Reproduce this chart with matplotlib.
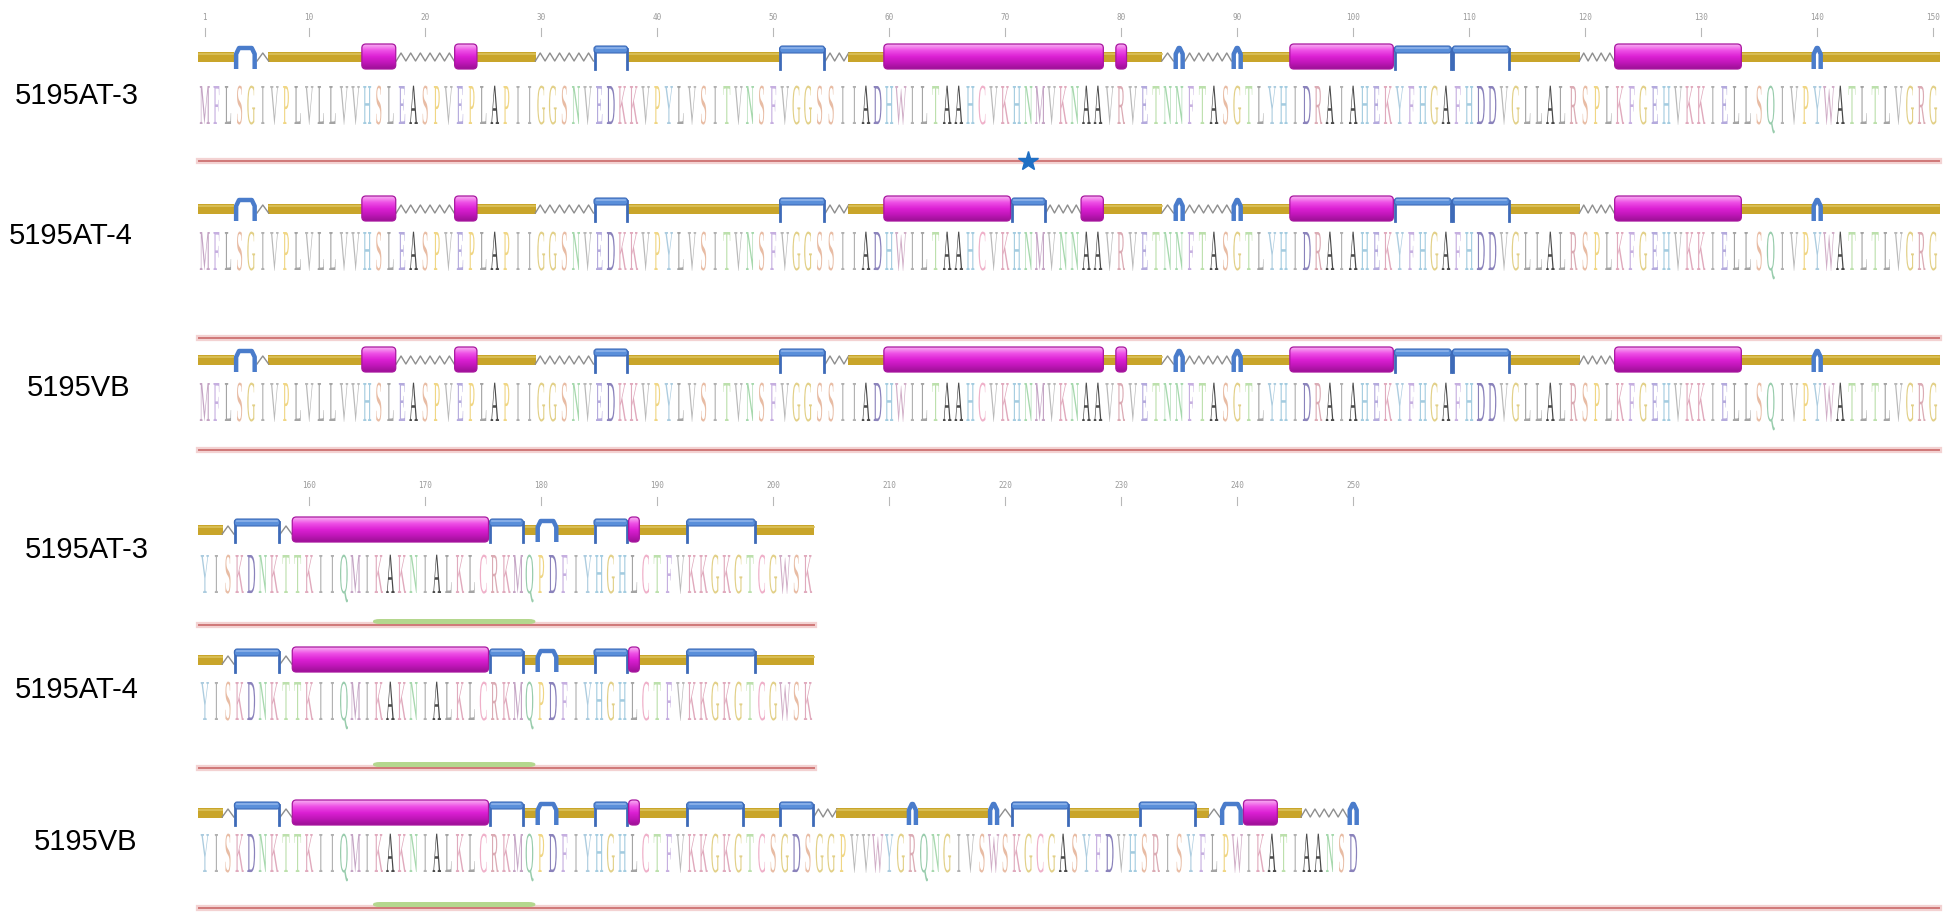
import matplotlib
matplotlib.use("Agg")
import matplotlib.pyplot as plt
import numpy as np
from matplotlib.patches import Rectangle, FancyBboxPatch, PathPatch
from matplotlib.textpath import TextPath
from matplotlib.font_manager import FontProperties
from matplotlib.path import Path
from matplotlib.colors import LinearSegmentedColormap

# ---- data ----
seq_top_at3 = ("MFLSGIVPLVLLVVHSLEASPVEPLAPIIGGSNVEDKKVPYLVSITVNSFVGGSSIIADHWILTAAHCVKHNMVKNAA"
               "VRVETNNFTASGTLYHIDRAIAHEKYFHGAFHDDVGLLALRSPLKFGEHVKKIELLSQIVPYWATLTLVGRG")
seq_top_at4 = ("MFLSGIVPLVLLVVHSLEASPVEPLAPIIGGSNVEDKKVPYLVSITVNSFVGGSSIIADHWILTAAHCVKHNMVNNAA"
               "VRVETNNFTASGTLYHIDRAIAHEKYFHGAFHDDVGLLALRSPLKFGEHVKKIELLSQIVPYWATLTLVGRG")
seq_top_vb = seq_top_at3
seq_bot_at3 = "YISKDNKTTKIIQMIKAKNIALKLCRKMQPDFIYHGHLCTFVKKGKGTCGWSK"
seq_bot_at4 = seq_bot_at3
seq_bot_vb = ("YISKDNKTTKIIQMIKAKNIALKLCRKMQPDFIYHGHLCTFVKKGKGT"
              "CSGDSGGPVVWYGRQNGIVSWSKGCGASYFDVHSRISYFLPWIKATIAANSD")

# secondary structure: C coil, H helix, E strand/turn, S bend (zigzag); residues inclusive
ss_top_at3 = [("C", 1, 3), ("E", 4, 5), ("S", 6, 6), ("C", 7, 14), ("H", 15, 17), ("S", 18, 22),
              ("H", 23, 24), ("C", 25, 29), ("S", 30, 34), ("E", 35, 37), ("C", 38, 50),
              ("E", 51, 54), ("S", 55, 56), ("C", 57, 59), ("H", 60, 78), ("C", 79, 79),
              ("H", 80, 80), ("C", 81, 83), ("S", 84, 84), ("E", 85, 85), ("S", 86, 89),
              ("E", 90, 90), ("C", 91, 94), ("H", 95, 103), ("E", 104, 108), ("E", 109, 113),
              ("C", 114, 119), ("S", 120, 122), ("H", 123, 133), ("C", 134, 139),
              ("E", 140, 140), ("C", 141, 150)]
ss_top_at4 = [s for s in ss_top_at3 if s[2] < 60 or s[1] > 83] + \
             [("H", 60, 70), ("E", 71, 73), ("S", 74, 76), ("H", 77, 78), ("C", 79, 83)]
ss_top_vb = ss_top_at3
ss_bot_at3 = [("C", 1, 2), ("S", 3, 3), ("E", 4, 7), ("S", 8, 8), ("H", 9, 25), ("E", 26, 28),
              ("C", 29, 29), ("E", 30, 31), ("C", 32, 34), ("E", 35, 37), ("H", 38, 38),
              ("C", 39, 42), ("E", 43, 48), ("C", 49, 53)]
ss_bot_at4 = ss_bot_at3
ss_bot_vb = [("C", 1, 2), ("S", 3, 3), ("E", 4, 7), ("S", 8, 8), ("H", 9, 25), ("E", 26, 28),
             ("C", 29, 29), ("E", 30, 31), ("C", 32, 34), ("E", 35, 37), ("H", 38, 38),
             ("C", 39, 42), ("E", 43, 47), ("C", 48, 50), ("E", 51, 53), ("S", 54, 55),
             ("C", 56, 61), ("E", 62, 62), ("C", 63, 68), ("E", 69, 69), ("S", 70, 70),
             ("E", 71, 75), ("C", 76, 81), ("E", 82, 86), ("C", 87, 87), ("S", 88, 88),
             ("E", 89, 90), ("H", 91, 93), ("C", 94, 95), ("S", 96, 99), ("E", 100, 100)]

names = ["5195AT-3", "5195AT-4", "5195VB", "5195AT-3", "5195AT-4", "5195VB"]
top_ticks = [1] + list(range(10, 151, 10))
bot_ticks = list(range(160, 251, 10))
bot_offset = 150
star_res = 72
green_span = (16, 29)

# ---- layout (pixels of the 1948x913 picture) ----
W, H = 1948, 913
PX0, PW = 199.0, 11.6
rows = [
    # seq, ss, bar y, letter bottom, red y, label y, label x, red end, green
    (seq_top_at3, ss_top_at3, 57, 124, 161, 96, 15, 150, False),
    (seq_top_at4, ss_top_at4, 209, 270, 338, 236, 9, 150, False),
    (seq_top_vb, ss_top_vb, 360, 421, 450, 388, 27, 150, False),
    (seq_bot_at3, ss_bot_at3, 530, 593, 625, 550, 25, 53, True),
    (seq_bot_at4, ss_bot_at4, 660, 720, 768, 690, 15, 53, True),
    (seq_bot_vb, ss_bot_vb, 813, 872, 908, 842, 34, 150, True),
]

res_colors = {
    "A": "#4a4a4a", "I": "#b0b0b0", "L": "#a4a4a4", "V": "#b8b8b8", "M": "#c4a4c4",
    "F": "#c6afe0", "W": "#d0acc6", "Y": "#acccdf", "G": "#e2d088", "P": "#f0d684",
    "S": "#e8bca4", "T": "#bce0ac", "N": "#a6d8ad", "Q": "#98ccac", "H": "#a4cce0",
    "K": "#e0aabd", "R": "#dbabb4", "C": "#efb0c9", "D": "#8a82bb", "E": "#b4aadd",
}

fig = plt.figure(figsize=(W / 100, H / 100), dpi=100)
ax = fig.add_axes([0, 0, 1, 1])
ax.set_axis_off()

helix_cmap = LinearSegmentedColormap.from_list(
    "helix", ["#f8b0f2", "#ee50e6", "#dc20d4", "#c016b8", "#9c1096"])
grad = np.linspace(0, 1, 64).reshape(-1, 1)

fp = FontProperties(family="Liberation Serif")
ext_M = TextPath((0, 0), "M", size=1, prop=fp).get_extents()
ext_H = TextPath((0, 0), "H", size=1, prop=fp).get_extents()
glyphs = {}


def draw_letter(ch, cx, base, height):
    if ch not in glyphs:
        glyphs[ch] = TextPath((0, 0), ch, size=1, prop=fp)
    p = glyphs[ch]
    e = p.get_extents()
    sx = 0.86 / ext_M.width
    sy = height / ext_H.height
    v = p.vertices.copy()
    v[:, 0] = (v[:, 0] - (e.x0 + e.width / 2)) * sx + cx
    v[:, 1] = base - v[:, 1] * sy
    ax.add_patch(PathPatch(Path(v, p.codes), fc=res_colors.get(ch, "#b0b0b0"),
                           ec="none", zorder=3))


def draw_segment(kind, s, e, B):
    x0, x1 = s - 1, e
    if kind == "C":
        ax.add_patch(Rectangle((x0 - 0.05, B - 5), x1 - x0 + 0.1, 10, fc="#c9a52a",
                               ec="none", zorder=2))
        ax.plot([x0, x1], [B - 3, B - 3], color="#dcc25c", lw=1.2, zorder=2.1)
    elif kind == "S":
        n = max(2, int(round((x1 - x0) / 0.4)))
        xs = np.linspace(x0, x1, n + 1)
        ys = B + np.where(np.arange(n + 1) % 2 == 0, 4, -4)
        ax.plot(xs, ys, color="#8e8e8e", lw=1.0, zorder=2)
    elif kind == "E":
        if x1 - x0 <= 2.1:
            xa, xb = x0 + 0.2, x1 - 0.2
            xs = [xa, xa, xa + 0.25, xb - 0.25, xb, xb]
            ys = [B + 12, B - 3, B - 9, B - 9, B - 3, B + 12]
            ax.plot(xs, ys, color="#4a7ccb", lw=3.2, solid_capstyle="butt",
                    solid_joinstyle="round", zorder=4)
        else:
            for xl in (x0 + 0.1, x1 - 0.1):
                ax.plot([xl, xl], [B - 8, B + 12], color="#3d6ab8", lw=2, zorder=4)
            ax.add_patch(FancyBboxPatch((x0 + 0.05, B - 11), x1 - x0 - 0.1, 7,
                                        boxstyle="round,pad=0,rounding_size=0.25",
                                        mutation_aspect=PW, fc="#5a8fda", ec="#3d6ab8",
                                        lw=0.8, zorder=4))
            ax.plot([x0 + 0.3, x1 - 0.3], [B - 9, B - 9], color="#8fb4ea", lw=1.2,
                    zorder=4.1)
    elif kind == "H":
        box = FancyBboxPatch((x0 + 0.04, B - 13), x1 - x0 - 0.08, 25,
                             boxstyle="round,pad=0,rounding_size=0.35",
                             mutation_aspect=PW, fc="none", ec="#a8169f", lw=0.9,
                             zorder=5.1)
        ax.add_patch(box)
        im = ax.imshow(grad, cmap=helix_cmap, aspect="auto", interpolation="bilinear",
                       extent=(x0, x1, B + 12, B - 13), zorder=5)
        im.set_clip_path(box)


for r, (seq, ss, B, base, red_y, lab_y, lab_x, red_end, green) in enumerate(rows):
    for kind in ["C", "S", "E", "H"]:
        for k, s, e in ss:
            if k == kind:
                draw_segment(k, s, e, B)
    for i, ch in enumerate(seq):
        draw_letter(ch, i + 0.5, base, 38)
    ax.plot([0, red_end], [red_y, red_y], color="#f3d2d2", lw=4.5, zorder=2)
    ax.plot([0, red_end], [red_y, red_y], color="#d07878", lw=1.4, zorder=2.2)
    if green:
        g0, g1 = green_span
        ax.add_patch(FancyBboxPatch((g0 - 1, red_y - 6), g1 - g0 + 1, 5,
                                    boxstyle="round,pad=0,rounding_size=0.6",
                                    mutation_aspect=PW / 3, fc="#b4d78e", ec="none",
                                    zorder=2.3))
    ax.text((lab_x - PX0) / PW, lab_y, names[r], fontsize=21, family="Liberation Sans",
            color="black", va="center", ha="left", zorder=6)

# ruler ticks
for t in top_ticks:
    ax.plot([t - 0.5, t - 0.5], [28, 36], color="#b8b8b8", lw=0.8)
    ax.text(t - 0.5, 17, str(t), fontsize=5.5, color="#9a9a9a", ha="center",
            va="center", family="DejaVu Sans Mono")
for t in bot_ticks:
    j = t - bot_offset
    ax.plot([j - 0.5, j - 0.5], [497, 505], color="#b8b8b8", lw=0.8)
    ax.text(j - 0.5, 486, str(t), fontsize=5.5, color="#9a9a9a", ha="center",
            va="center", family="DejaVu Sans Mono")

# mutation marker
ax.plot([star_res - 0.5], [rows[0][4]], marker="*", ms=15, color="#1f6fc4",
        mec="#1f6fc4", zorder=8)

ax.set_xlim(-PX0 / PW, (W - PX0) / PW)
ax.set_ylim(H, 0)
fig.savefig("out.png", dpi=100, facecolor="white")
